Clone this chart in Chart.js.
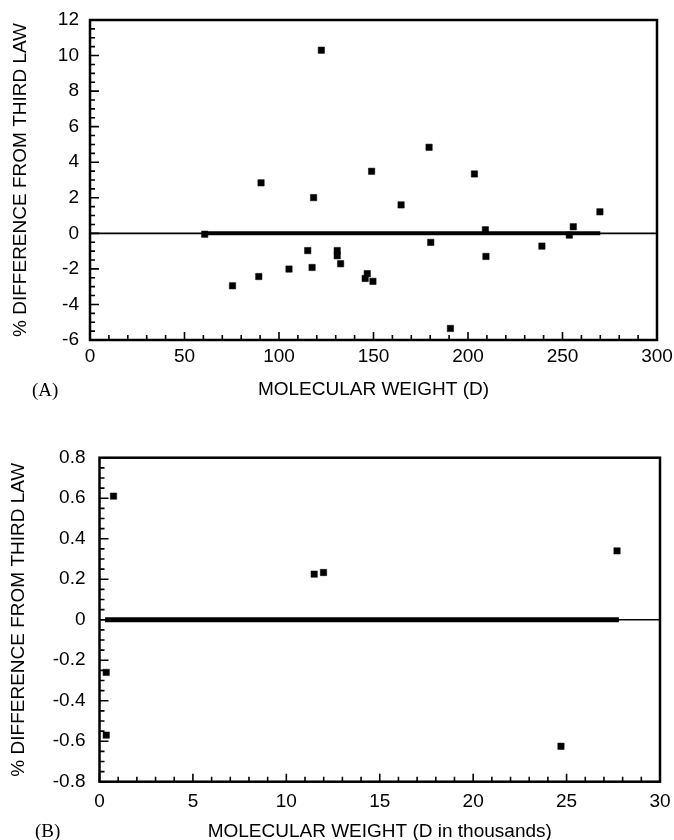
<!DOCTYPE html>
<html>
<head>
<meta charset="utf-8">
<title>% difference from third law</title>
<script src="https://cdn.jsdelivr.net/npm/chart.js@4.4.0/dist/chart.umd.min.js"></script>
<style>
    html, body { margin: 0; padding: 0; background: #fff; overflow: hidden; }
    #wrap { position: relative; width: 674px; height: 840px; }
    .panel { position: absolute; left: 0; }
    .tag { position: absolute; font-family: 'Liberation Serif', 'Times New Roman', serif; font-size: 19px; color: #000; line-height: 22px; }
</style>
</head>
<body>
<div id="wrap">
    <canvas id="chartA" class="panel" width="674" height="410" style="top:0"></canvas>
    <canvas id="chartB" class="panel" width="674" height="450" style="top:400px"></canvas>
    <div class="tag" style="left:32px; top:379px">(A)</div>
    <div class="tag" style="left:35px; top:820px">(B)</div>
</div>
<script>
// (A) small molecules, weight in D
const weightA = [60.7, 75.4, 89.3, 90.5, 105.3, 115.2, 117.5, 118.3, 122.4, 130.8, 130.8, 132.6,
    149, 146.7, 145.6, 149.7, 164.6, 179.4, 180.3, 190.7, 203.4, 209.2, 209.5, 239.1, 253.6, 255.7, 269.8];
const diffA = [-0.05, -2.95, -2.43, 2.84, -2.01, -0.97, -1.92, 2.01, 10.3, -0.97, -1.26, -1.71,
    3.49, -2.27, -2.54, -2.7, 1.6, 4.84, -0.51, -5.35, 3.34, 0.2, -1.3, -0.72, -0.1, 0.37, 1.21];
const zeroLineA = [0, 300];
const thirdLawA = [60, 270];
const xTicksA = [0, 50, 100, 150, 200, 250, 300];
const yTicksA = [-6, -4, -2, 0, 2, 4, 6, 8, 10, 12];

// (B) proteins, weight in thousands of D
const weightB = [0.75, 0.36, 0.36, 11.49, 11.99, 27.7, 24.7];
const diffB = [0.61, -0.26, -0.57, 0.225, 0.233, 0.34, -0.625];
const zeroLineB = [0, 30];
const thirdLawB = [0.3, 27.8];
const xTicksB = [0, 5, 10, 15, 20, 25, 30];
const yTicksB = [-0.8, -0.6, -0.4, -0.2, 0, 0.2, 0.4, 0.6, 0.8];

const FONT = "'Liberation Sans', Arial, sans-serif";

// box round the plot + inward ticks on the bottom and left axes
const framePlugin = {
    id: 'frame',
    afterDatasetsDraw(chart, args, opts) {
        const ctx = chart.ctx;
        const a = chart.chartArea;
        const xs = chart.scales.x, ys = chart.scales.y;
        ctx.save();
        ctx.strokeStyle = '#000';
        ctx.lineWidth = 1.6;

        function isMajor(v, step) {
            const r = v / step;
            return Math.abs(r - Math.round(r)) < 1e-6;
        }

        const nx = Math.round((xs.max - xs.min) / opts.xMinor);
        ctx.beginPath();
        for (let i = 0; i <= nx; i++) {
            const v = xs.min + i * opts.xMinor;
            const px = xs.getPixelForValue(v);
            const len = isMajor(v, opts.xMajor) ? 8 : 5;
            ctx.moveTo(px, a.bottom);
            ctx.lineTo(px, a.bottom - len);
        }
        const ny = Math.round((ys.max - ys.min) / opts.yMinor);
        for (let i = 0; i <= ny; i++) {
            const v = ys.min + i * opts.yMinor;
            const py = ys.getPixelForValue(v);
            const len = isMajor(v, opts.yMajor) ? 9 : 5;
            ctx.moveTo(a.left, py);
            ctx.lineTo(a.left + len, py);
        }
        ctx.stroke();

        ctx.lineWidth = 2.5;
        ctx.strokeRect(a.left, a.top, a.right - a.left, a.bottom - a.top);
        ctx.restore();
    }
};

function buildChart(id, p) {
    return new Chart(document.getElementById(id), {
        type: 'scatter',
        data: {
            datasets: [
                {
                    data: p.xs.map((v, i) => ({ x: v, y: p.ys[i] })),
                    pointStyle: 'rect',
                    pointRadius: 4.5,
                    backgroundColor: '#000',
                    borderColor: '#000',
                    borderWidth: 0.5
                },
                {
                    type: 'line',
                    data: p.fit.map(v => ({ x: v, y: 0 })),
                    borderColor: '#000',
                    borderWidth: p.fitWidth,
                    pointRadius: 0
                },
                {
                    type: 'line',
                    data: p.zero.map(v => ({ x: v, y: 0 })),
                    borderColor: '#000',
                    borderWidth: 1.6,
                    pointRadius: 0
                }
            ]
        },
        options: {
            responsive: false,
            animation: false,
            events: [],
            layout: { padding: { top: p.padTop, right: p.padRight, left: 0, bottom: 0 } },
            plugins: {
                legend: { display: false },
                tooltip: { enabled: false },
                frame: { xMinor: p.xMinor, xMajor: p.xMajor, yMinor: p.yMinor, yMajor: p.yMajor }
            },
            scales: {
                x: {
                    type: 'linear',
                    min: p.xTicks[0],
                    max: p.xTicks[p.xTicks.length - 1],
                    afterBuildTicks: s => { s.ticks = p.xTicks.map(v => ({ value: v })); },
                    afterFit: s => {
                        s.height = p.xHeight;
                        // let the end labels hang over, the layout padding decides the plot edges
                        s.paddingLeft = 0;
                        s.paddingRight = 0;
                    },
                    grid: { display: false, drawTicks: false },
                    border: { display: false },
                    ticks: {
                        color: '#000', padding: p.xTickPad, maxRotation: 0, autoSkip: false,
                        font: { family: FONT, size: 19 },
                        callback: v => String(v)
                    },
                    title: {
                        display: true, text: p.xTitle, color: '#000',
                        font: { family: FONT, size: 19 },
                        padding: { top: 0, bottom: p.xTitlePad }
                    }
                },
                y: {
                    type: 'linear',
                    min: p.yTicks[0],
                    max: p.yTicks[p.yTicks.length - 1],
                    afterBuildTicks: s => { s.ticks = p.yTicks.map(v => ({ value: v })); },
                    afterFit: s => {
                        s.width = p.yWidth;
                        s.paddingTop = 0;
                        s.paddingBottom = 0;
                    },
                    grid: { display: false, drawTicks: false },
                    border: { display: false },
                    ticks: {
                        color: '#000', padding: p.yTickPad, autoSkip: false,
                        font: { family: FONT, size: 19 },
                        callback: v => String(v)
                    },
                    title: {
                        display: true, text: '% DIFFERENCE FROM THIRD LAW', color: '#000',
                        font: { family: FONT, size: 19 },
                        padding: { top: p.yTitlePad, bottom: 0 }
                    }
                }
            }
        },
        plugins: [framePlugin]
    });
}

buildChart('chartA', {
    xs: weightA, ys: diffA, zero: zeroLineA, fit: thirdLawA, fitWidth: 4,
    xTicks: xTicksA, yTicks: yTicksA,
    xMinor: 10, xMajor: 50, yMinor: 0.5, yMajor: 2,
    xTitle: 'MOLECULAR WEIGHT (D)',
    padTop: 20, padRight: 17, xHeight: 70, yWidth: 90,
    xTickPad: 5, yTickPad: 11, xTitlePad: 8.6, yTitlePad: 9.6
});

buildChart('chartB', {
    xs: weightB, ys: diffB, zero: zeroLineB, fit: thirdLawB, fitWidth: 5,
    xTicks: xTicksB, yTicks: yTicksB,
    xMinor: 1, xMajor: 5, yMinor: 0.05, yMajor: 0.2,
    xTitle: 'MOLECULAR WEIGHT (D in thousands)',
    padTop: 57.7, padRight: 14, xHeight: 68.3, yWidth: 99.5,
    xTickPad: 9, yTickPad: 14, xTitlePad: 6.6, yTitlePad: 7
});
</script>
</body>
</html>
